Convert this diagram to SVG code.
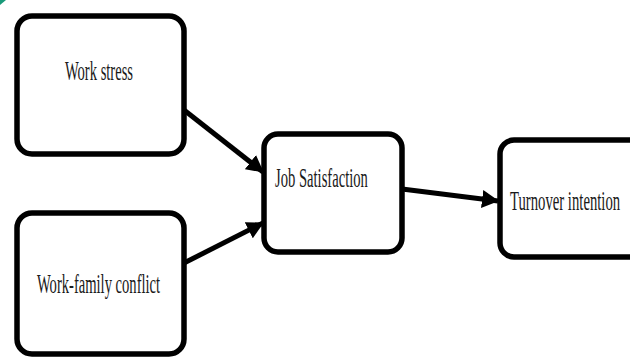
<svg xmlns="http://www.w3.org/2000/svg" width="630" height="358" viewBox="0 0 630 358">
<style>
.box{fill:#fff;stroke:#000;stroke-width:5.5}
.lbl{font-family:"Liberation Serif","Times New Roman",serif;font-size:27px;fill:#1a1a1a}
.conn{stroke:#000;stroke-width:5;fill:none}
</style>
<defs>
<marker id="ah" markerUnits="userSpaceOnUse" markerWidth="18" markerHeight="18" refX="16" refY="9" orient="auto">
<path d="M0,0 L17,9 L0,18 z" fill="#000"/>
</marker>
</defs>
<rect width="630" height="358" fill="#fff"/>
<path d="M0,0 L6,0 L0,5 z" fill="#1a9a7a"/>
<g id="connectors">
<line class="conn" x1="184" y1="110" x2="263" y2="172" marker-end="url(#ah)"/>
<line class="conn" x1="184" y1="263" x2="263" y2="223" marker-end="url(#ah)"/>
<line class="conn" x1="402" y1="189" x2="498" y2="201" marker-end="url(#ah)"/>
</g>
<g id="work-stress">
<rect class="box" x="17" y="16" width="167" height="138" rx="15"/>
<text class="lbl" transform="translate(65,80) scale(0.54,1)" textLength="126" lengthAdjust="spacingAndGlyphs">Work stress</text>
</g>
<g id="work-family-conflict">
<rect class="box" x="17" y="213" width="167" height="141" rx="15"/>
<text class="lbl" transform="translate(37,293) scale(0.54,1)" textLength="228" lengthAdjust="spacingAndGlyphs">Work-family conflict</text>
</g>
<g id="job-satisfaction">
<rect class="box" x="264" y="134" width="138" height="118" rx="14"/>
<text class="lbl" transform="translate(275,187) scale(0.54,1)" textLength="172" lengthAdjust="spacingAndGlyphs">Job Satisfaction</text>
</g>
<g id="turnover-intention">
<rect class="box" x="500" y="140" width="160" height="117" rx="14"/>
<text class="lbl" transform="translate(510,210) scale(0.54,1)" textLength="204" lengthAdjust="spacingAndGlyphs">Turnover intention</text>
</g>
</svg>
